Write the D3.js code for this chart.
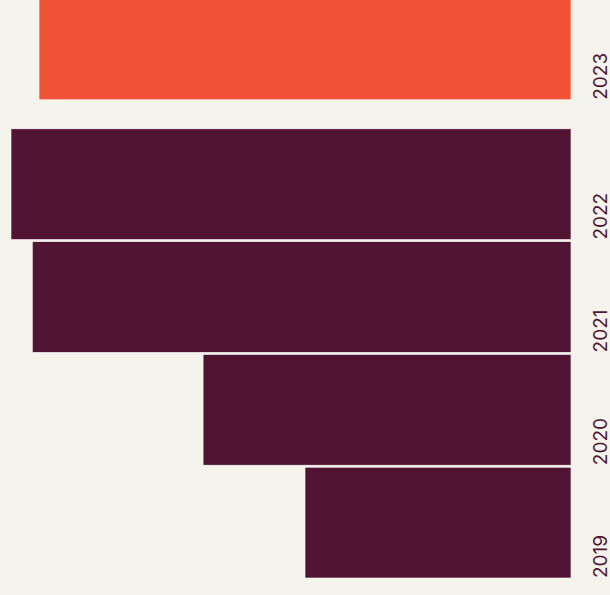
<!DOCTYPE html>
<html>
<head>
<meta charset="utf-8">
<script src="https://cdn.jsdelivr.net/npm/d3@7"></script>
<style>
  html, body { margin: 0; padding: 0; background: #f4f3ec; }
  svg { display: block; }
</style>
</head>
<body>
<div id="chart"></div>
<script>
// data
var years = ["2023", "2022", "2021", "2020", "2019"];
var values = [95, 100, 96.2, 65.7, 47.5];
var highlightYear = "2023";

var width = 610, height = 595;
var margin = { top: 16, right: 39, bottom: 17, left: 11 };
var highlightGap = 27;

var svg = d3.select("#chart").append("svg")
    .attr("width", width)
    .attr("height", height);

svg.append("rect")
    .attr("width", width)
    .attr("height", height)
    .attr("fill", "#f4f3ec");

var data = years.map(function (d, i) {
    return { year: d, value: values[i] };
});

var y = d3.scaleBand()
    .domain(years)
    .range([margin.top, height - margin.bottom])
    .paddingInner(0.018);

// the highlighted year sits apart from the others
function barY(d) {
    return y(d) - (d === highlightYear ? highlightGap : 0);
}

var x = d3.scaleLinear()
    .domain([0, 100])
    .range([width - margin.right, margin.left]);

var g = svg.append("g");

g.selectAll("rect.bar")
    .data(data)
    .enter().append("rect")
    .attr("class", "bar")
    .attr("x", function (d) { return x(d.value); })
    .attr("y", function (d) { return barY(d.year); })
    .attr("width", function (d) { return x(0) - x(d.value); })
    .attr("height", y.bandwidth())
    .attr("fill", function (d) { return d.year === highlightYear ? "#f15137" : "#511432"; })
    .attr("stroke", "#ffffff")
    .attr("stroke-width", 0.6);

g.selectAll("text.year")
    .data(data)
    .enter().append("text")
    .attr("class", "year")
    .attr("transform", function (d) {
        var yy = barY(d.year) + y.bandwidth();
        return "translate(607," + yy + ") rotate(-90)";
    })
    .attr("text-anchor", "start")
    .attr("fill", "#511432")
    .attr("font-family", "Inter, 'Liberation Sans', sans-serif")
    .attr("font-size", "19px")
    .text(function (d) { return d.year; });
</script>
</body>
</html>
